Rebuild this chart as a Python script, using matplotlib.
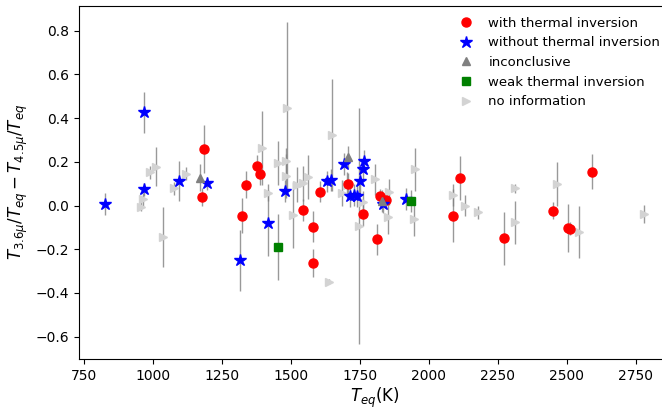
import matplotlib
matplotlib.use("Agg")
import matplotlib.pyplot as plt
import numpy as np

# with thermal inversion
red_T = [1177, 1186, 1323, 1336, 1378, 1388, 1545, 1581, 1581, 1606, 1708, 1763, 1811, 1823, 1845,
         2088, 2113, 2272, 2452, 2503, 2511, 2593]
red_y = [0.038, 0.257, -0.046, 0.096, 0.183, 0.145, -0.020, -0.096, -0.264, 0.064, 0.100, -0.040, -0.155,
         0.044, 0.026, -0.046, 0.125, -0.150, -0.023, -0.104, -0.107, 0.155]
red_e = [0.04, 0.11, 0.08, 0.06, 0.05, 0.05, 0.05, 0.07, 0.065, 0.05, 0.05, 0.055, 0.07, 0.03, 0.03,
         0.12, 0.10, 0.12, 0.04, 0.11, 0.03, 0.08]

# without thermal inversion
blue_T = [826, 969, 969, 1093, 1195, 1317, 1416, 1479, 1630, 1645, 1692, 1715, 1728, 1741, 1751, 1763,
          1766, 1833, 1917]
blue_y = [0.007, 0.427, 0.075, 0.113, 0.102, -0.250, -0.080, 0.068, 0.110, 0.118, 0.189, 0.045, 0.050,
          0.045, 0.113, 0.166, 0.205, 0.005, 0.028]
blue_e = [0.05, 0.093, 0.03, 0.09, 0.03, 0.14, 0.15, 0.05, 0.05, 0.05, 0.05, 0.05, 0.05, 0.05, 0.06,
          0.05, 0.05, 0.04, 0.05]

# inconclusive
inc_T = [1172, 1708, 1829]
inc_y = [0.128, 0.222, 0.020]
inc_e = [0.06, 0.05, 0.05]

# weak thermal inversion
weak_T = [1455, 1934]
weak_y = [-0.190, 0.022]
weak_e = [0.15, 0.05]

# no information
noinfo_T = [957, 965, 989, 1011, 1035, 1077, 1120, 1394, 1418, 1455, 1482, 1483, 1485, 1507, 1521, 1545,
            1563, 1639, 1648, 1684, 1705, 1748, 1760, 1805, 1853, 1857, 1948, 1950, 2087, 2133, 2180,
            2311, 2313, 2466, 2546, 2780]
noinfo_y = [-0.005, 0.029, 0.152, 0.178, -0.145, 0.079, 0.145, 0.262, 0.059, 0.193, 0.205, 0.135, 0.448,
            -0.043, 0.094, 0.102, 0.132, -0.348, 0.323, 0.056, 0.094, -0.093, 0.018, 0.120, -0.051, 0.061,
            -0.060, 0.165, 0.050, 0.000, -0.031, 0.079, -0.077, 0.097, -0.122, -0.038]
noinfo_e = [0.02, 0.03, 0.03, 0.09, 0.137, 0.03, 0.03, 0.17, 0.04, 0.10, 0.06, 0.10, 0.39, 0.15, 0.08,
            0.08, 0.10, 0.01, 0.255, 0.06, 0.06, 0.54, 0.05, 0.07, 0.08, 0.06, 0.08, 0.10, 0.05, 0.05,
            0.03, 0.02, 0.10, 0.10, 0.12, 0.04]

fig = plt.figure(figsize=(6.62, 4.09), dpi=100)
ax = fig.add_axes([78.5 / 662, 50 / 409, 593 / 662, 353.5 / 409])

groups = [
    (noinfo_T, noinfo_y, noinfo_e),
    (weak_T, weak_y, weak_e),
    (inc_T, inc_y, inc_e),
    (blue_T, blue_y, blue_e),
    (red_T, red_y, red_e),
]
for T, y, e in groups:
    ax.errorbar(T, y, yerr=e, fmt='none', ecolor='grey', elinewidth=1, alpha=0.8, zorder=1)

ax.plot(red_T, red_y, 'o', color='red', markersize=6.5, linestyle='none',
        label='with thermal inversion', zorder=3)
ax.plot(blue_T, blue_y, '*', color='blue', markersize=9, linestyle='none',
        label='without thermal inversion', zorder=3)
ax.plot(inc_T, inc_y, '^', color='grey', markersize=6, linestyle='none',
        label='inconclusive', zorder=3)
ax.plot(weak_T, weak_y, 's', color='green', markersize=6, linestyle='none',
        label='weak thermal inversion', zorder=3)
ax.plot(noinfo_T, noinfo_y, '>', color='lightgrey', markersize=6, linestyle='none',
        label='no information', zorder=2)

ax.set_xlim(730, 2880)
ax.set_ylim(-0.702, 0.915)
ax.set_xticks([750, 1000, 1250, 1500, 1750, 2000, 2250, 2500, 2750])
ax.set_yticks([-0.6, -0.4, -0.2, 0.0, 0.2, 0.4, 0.6, 0.8])

ax.set_xlabel(r'$T_{eq}$(K)', fontsize=12, labelpad=2)
ax.set_ylabel(r'$T_{3.6\mu}/T_{eq} - T_{4.5\mu}/T_{eq}$', fontsize=12)

ax.legend(loc='upper left', bbox_to_anchor=(441 / 662, (409 - 5) / 409),
          bbox_transform=fig.transFigure, frameon=False, numpoints=1, fontsize=9.5,
          handletextpad=0.7)

fig.savefig('out.png', dpi=100)
